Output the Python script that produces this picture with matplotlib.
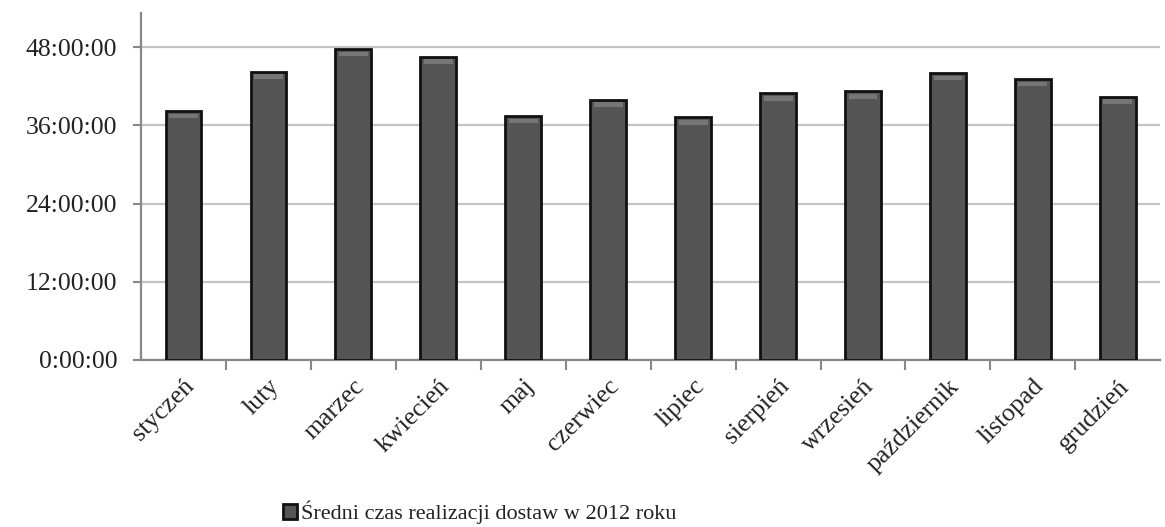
import matplotlib.pyplot as plt
import numpy as np
from matplotlib.ticker import FuncFormatter, MultipleLocator

# średni czas realizacji dostaw w godzinach
miesiace = ['styczeń', 'luty', 'marzec', 'kwiecień', 'maj', 'czerwiec',
            'lipiec', 'sierpień', 'wrzesień', 'październik', 'listopad', 'grudzień']
godziny = [38.2, 44.2, 47.7, 46.5, 37.4, 39.9, 37.2, 40.9, 41.2, 44.0, 43.1, 40.4]
seria = 'Średni czas realizacji dostaw w 2012 roku'

plt.rcParams['font.family'] = ['Liberation Serif', 'DejaVu Serif']
fs = 18.5

fig = plt.figure(figsize=(11.65, 5.27), dpi=100)
ax = fig.add_axes([0.121, 0.317, 0.875, 0.658])

x = np.arange(len(miesiace))
bars = ax.bar(x, godziny, width=0.42, color='#555555', edgecolor='#111111',
              linewidth=2, zorder=3, label=seria)
# jaśniejsze pasmo u góry słupka (efekt wypukłości)
ax.bar(x, [0.7] * len(x), bottom=np.array(godziny) - 1.1, width=0.34,
       color='#767676', linewidth=0, zorder=4)

ax.set_xlim(-0.5, len(miesiace) - 0.5)
ax.set_ylim(0, 53.2)
ax.yaxis.set_major_locator(MultipleLocator(12))
ax.yaxis.set_major_formatter(FuncFormatter(lambda v, p: f'{int(v)}:00:00'))
ax.grid(axis='y', color='#c4c4c4', linewidth=1.6, zorder=0)

ax.set_xticks(x)
ax.set_xticklabels(miesiace, rotation=45, ha='right', rotation_mode='anchor')
ax.set_xticks(x[:-1] + 0.5, minor=True)
ax.tick_params(axis='x', which='major', length=0, pad=11, labelsize=fs, labelcolor='#222222')
ax.tick_params(axis='x', which='minor', length=7, width=1.5, color='#888888')
ax.tick_params(axis='y', length=6, width=1.5, color='#888888', pad=11,
               labelsize=fs, labelcolor='#222222')

for s in ['top', 'right']:
    ax.spines[s].set_visible(False)
for s in ['left', 'bottom']:
    ax.spines[s].set_color('#888888')
    ax.spines[s].set_linewidth(1.6)

fig.legend(handles=[bars], labels=[seria], loc='center', bbox_to_anchor=(0.412, 0.028),
           frameon=False, fontsize=16, handlelength=0.6, handleheight=0.65,
           handletextpad=0.2, labelcolor='#222222')

plt.savefig('out.png', dpi=100)
